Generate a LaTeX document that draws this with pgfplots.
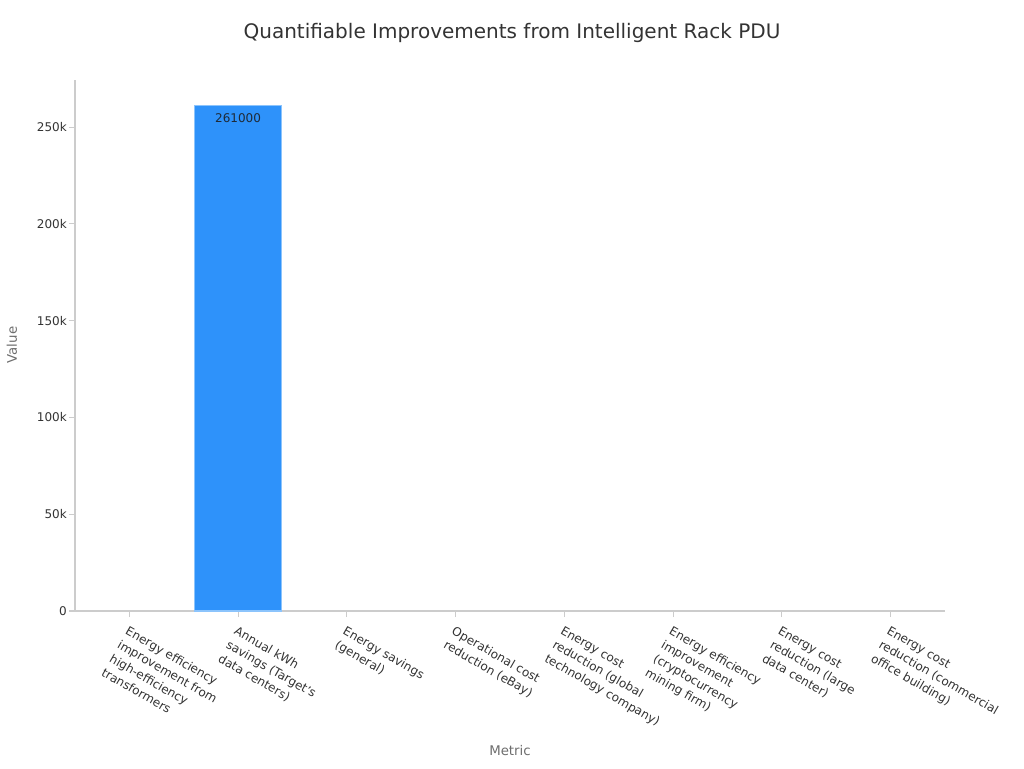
\documentclass[border=0pt]{standalone}
\usepackage{pgfplots}
\pgfplotsset{compat=1.18}
\usepackage{fontspec}
\setmainfont{DejaVu Sans}

\definecolor{barblue}{RGB}{46,146,250}
\definecolor{baredge}{RGB}{140,196,252}
\definecolor{axisgray}{RGB}{204,204,204}
\definecolor{titlegray}{RGB}{51,51,51}
\definecolor{labelgray}{RGB}{110,110,110}

\begin{document}
\begin{tikzpicture}[x=1pt,y=1pt]
\useasboundingbox (0,0) rectangle (768,576);

\begin{axis}[
  at={(56.25pt,117.75pt)}, anchor=south west,
  scale only axis,
  width=652.5pt, height=398.25pt,
  xmin=-0.5, xmax=7.5,
  ymin=0, ymax=274300,
  axis x line*=bottom,
  axis y line*=left,
  axis line style={axisgray, line width=0.8pt},
  tick style={axisgray, line width=0.8pt},
  tick align=outside,
  major tick length=4.5pt,
  xtick={0,...,7},
  xticklabels={
    {Energy efficiency\\improvement from\\high-efficiency\\transformers},
    {Annual kWh\\savings (Target's\\data centers)},
    {Energy savings\\(general)},
    {Operational cost\\reduction (eBay)},
    {Energy cost\\reduction (global\\technology company)},
    {Energy efficiency\\improvement\\(cryptocurrency\\mining firm)},
    {Energy cost\\reduction (large\\data center)},
    {Energy cost\\reduction (commercial\\office building)}
  },
  xticklabel style={rotate=-30, anchor=north west, align=left,
    font=\fontsize{9}{12}\selectfont, text=titlegray, inner sep=1pt,
    xshift=2pt, yshift=-4.5pt},
  scaled y ticks=false,
  ytick={0,50000,100000,150000,200000,250000},
  yticklabels={0,50k,100k,150k,200k,250k},
  yticklabel style={font=\fontsize{9}{10}\selectfont, text=titlegray, inner sep=1.5pt},
  /pgf/number format/assume math mode=true,
  clip=false,
]
\addplot[ybar, bar width=0.8, fill=barblue, draw=baredge, line width=0.8pt,
  nodes near coords,
  nodes near coords align={below},
  every node near coord/.append style={font=\fontsize{9}{10}\selectfont,
    text=titlegray!80!barblue!60!black, yshift=-2pt,
    /pgf/number format/fixed, /pgf/number format/1000 sep={}}]
  coordinates {(1,261000)};
\end{axis}

\node[text=titlegray, font=\fontsize{15}{18}\selectfont] at (384,551.25)
  {Quantifiable Improvements from Intelligent Rack PDU};
\node[text=labelgray, font=\fontsize{10}{12}\selectfont, rotate=90] at (9,317.25) {Value};
\node[text=labelgray, font=\fontsize{10}{12}\selectfont] at (382.5,12.75) {Metric};
\end{tikzpicture}
\end{document}
